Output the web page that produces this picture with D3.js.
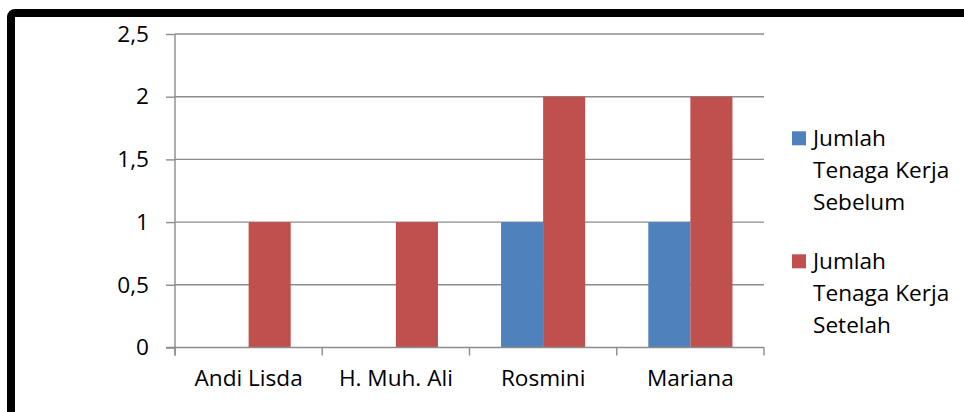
<!DOCTYPE html>
<html>
<head>
<meta charset="utf-8">
<script src="https://cdn.jsdelivr.net/npm/d3@7"></script>
<style>
  html, body { margin: 0; padding: 0; background: #fff; }
  svg { display: block; }
  text { font-family: "Open Sans", "Noto Sans", sans-serif; fill: #000; }
</style>
</head>
<body>
<svg id="chart" width="964" height="412"></svg>
<script>
const categories = ["Andi Lisda", "H. Muh. Ali", "Rosmini", "Mariana"];
const seriesNames = ["Jumlah Tenaga Kerja Sebelum", "Jumlah Tenaga Kerja Setelah"];
const legendLines = [["Jumlah", "Tenaga Kerja", "Sebelum"], ["Jumlah", "Tenaga Kerja", "Setelah"]];
const sebelum = [0, 0, 1, 1];
const setelah = [1, 1, 2, 2];
const yTicks = [0, 0.5, 1, 1.5, 2, 2.5];
const yTickLabels = ["0", "0,5", "1", "1,5", "2", "2,5"];
const colors = ["#4F81BD", "#C0504D"];

const svg = d3.select("#chart");
const fontSize = 22.6;

// outer thick frame (extends beyond the right and bottom edges)
svg.append("rect")
  .attr("x", 11).attr("y", 13)
  .attr("width", 1100).attr("height", 600)
  .attr("rx", 4)
  .attr("fill", "#fff")
  .attr("stroke", "#000")
  .attr("stroke-width", 8);

const plot = { left: 175, right: 764, top: 34, bottom: 347.5 };

const x0 = d3.scaleBand().domain(categories).range([plot.left, plot.right]).padding(0);
const x1 = d3.scaleBand().domain(seriesNames).range([0, x0.bandwidth()])
  .paddingInner(0).paddingOuter(0.75);
const y = d3.scaleLinear().domain([0, 2.5]).range([plot.bottom, plot.top]);

const gridColor = "#8c8c8c";

// gridlines
svg.append("g").selectAll("line")
  .data(yTicks.filter(d => d > 0))
  .join("line")
  .attr("x1", plot.left).attr("x2", plot.right)
  .attr("y1", d => y(d)).attr("y2", d => y(d))
  .attr("stroke", gridColor).attr("stroke-width", 1.4);

// bars
const data = categories.map((c, i) => ({ cat: c, values: [sebelum[i], setelah[i]] }));
const groups = svg.append("g").selectAll("g")
  .data(data).join("g")
  .attr("transform", d => `translate(${x0(d.cat)},0)`);
groups.selectAll("rect")
  .data(d => d.values.map((v, j) => ({ key: seriesNames[j], v, j })))
  .join("rect")
  .attr("x", d => x1(d.key))
  .attr("width", x1.bandwidth())
  .attr("y", d => y(d.v))
  .attr("height", d => y(0) - y(d.v))
  .attr("fill", d => colors[d.j]);

// y axis
const yAxis = d3.axisLeft(y)
  .tickValues(yTicks)
  .tickFormat((d, i) => yTickLabels[i])
  .tickSize(9).tickPadding(17);
const gy = svg.append("g").attr("transform", `translate(${plot.left},0)`).call(yAxis);
gy.select(".domain").attr("stroke", gridColor).attr("stroke-width", 1.4)
  .attr("d", `M0,${plot.top}V${plot.bottom + 8}`);
gy.selectAll(".tick line").attr("stroke", gridColor).attr("stroke-width", 1.4);
gy.selectAll(".tick text").style("font-size", fontSize + "px")
  .style("font-family", "'Open Sans', sans-serif").attr("fill", "#000");

// x axis
const xAxis = d3.axisBottom(x0).tickSize(0).tickPadding(22);
const gx = svg.append("g").attr("transform", `translate(0,${plot.bottom})`).call(xAxis);
gx.select(".domain").attr("stroke", gridColor).attr("stroke-width", 1.4)
  .attr("d", `M${plot.left - 9},0H${plot.right}`);
gx.selectAll(".tick text").style("font-size", fontSize + "px")
  .style("font-family", "'Open Sans', sans-serif").attr("fill", "#000");
// category boundary tick marks
const bounds = categories.map(c => x0(c)).concat([x0(categories[categories.length - 1]) + x0.bandwidth()]);
gx.append("g").selectAll("line").data(bounds).join("line")
  .attr("x1", d => d).attr("x2", d => d)
  .attr("y1", 0).attr("y2", 8)
  .attr("stroke", gridColor).attr("stroke-width", 1.4);

// legend
const legend = svg.append("g");
const legendTop = [131.3, 254.3];
seriesNames.forEach((s, i) => {
  const g = legend.append("g").attr("transform", `translate(792,${legendTop[i]})`);
  g.append("rect").attr("x", 0).attr("y", 0).attr("width", 14).attr("height", 14)
    .attr("fill", colors[i]);
  const t = g.append("text").attr("x", 21).attr("y", 14.4)
    .style("font-size", fontSize + "px");
  legendLines[i].forEach((ln, k) => {
    t.append("tspan").attr("x", 21).attr("y", 14.4 + k * 32.3).text(ln);
  });
});
</script>
</body>
</html>
